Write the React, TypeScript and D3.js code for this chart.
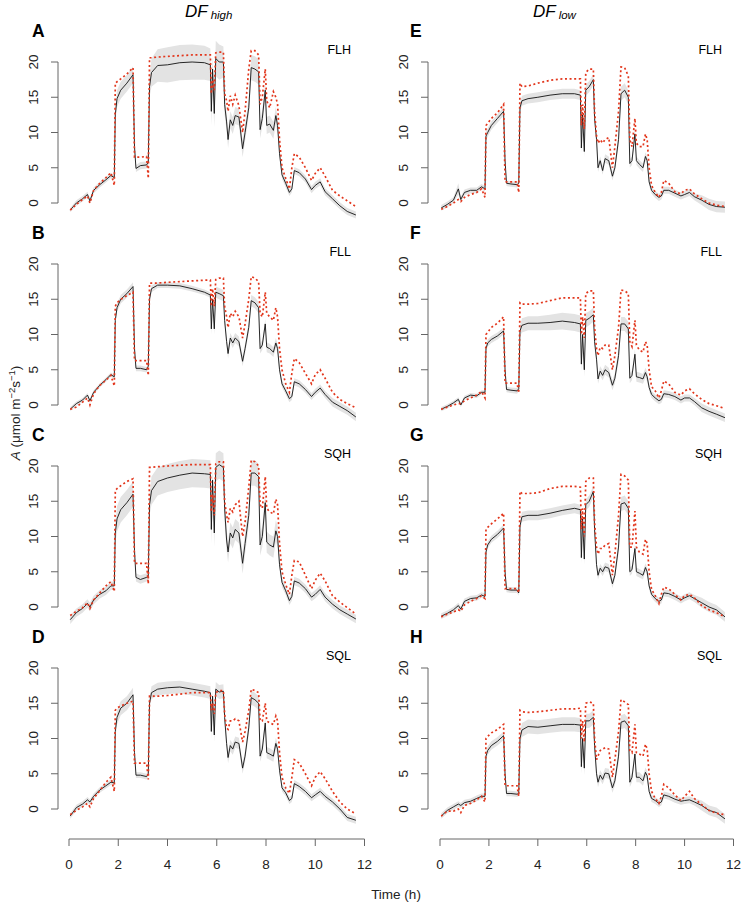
import React from 'react';
import * as d3 from 'd3';

// shared time grid (h)
const TIME = [
  0.05, 0.3, 0.55, 0.75, 0.85, 1.0, 1.25, 1.5, 1.7, 1.84,
  1.88, 1.95, 2.1, 2.35, 2.6,
  2.66, 2.72, 2.9, 3.15, 3.22,
  3.27, 3.35, 3.6, 4.0, 4.5, 5.0, 5.5, 5.74,
  5.78, 5.83, 5.9, 5.96, 6.1, 6.27, 6.32,
  6.4, 6.46, 6.55, 6.65, 6.75, 6.9, 7.05, 7.15,
  7.3, 7.4, 7.55, 7.7,
  7.76, 7.85, 7.97, 8.03, 8.15, 8.3, 8.4, 8.47,
  8.55, 8.65, 8.8, 8.95, 9.05, 9.15, 9.35, 9.6, 9.85, 10.0, 10.2, 10.4, 10.7, 11.0, 11.3, 11.65,
];
const X_TICKS = [0, 2, 4, 6, 8, 10, 12];
const Y_TICKS = [0, 5, 10, 15, 20];

// Panel A (DF high, FLH)
const blackA = [
  -1.0, 0.0, 0.6, 1.2, 0.3, 1.8, 2.6, 3.3, 3.9, 3.6,
  12.5, 14.8, 16.0, 17.0, 18.2,
  8.0, 4.9, 5.3, 5.4, 5.8,
  16.5, 18.5, 19.5, 19.6, 19.9, 20.0, 19.9, 19.6,
  13.0, 19.0, 12.7, 20.5, 20.0, 20.0, 14.0,
  11.5, 9.0, 11.8, 11.0, 12.4, 12.2, 7.7, 10.0,
  13.5, 19.2, 19.0, 18.6,
  10.4, 12.0, 16.0, 11.0, 11.2, 10.3, 12.4, 11.0,
  7.0, 4.0, 2.8, 1.5, 2.0, 4.6, 4.3, 3.4, 1.9, 2.5, 3.0, 1.6, 0.6, -0.4, -1.2, -1.7,
];
const redA = [
  -1.0, -0.2, 0.5, 1.0, 0.0, 1.8, 2.8, 3.6, 4.3, 2.5,
  17.0, 17.2, 17.6, 18.3, 19.2,
  6.5, 6.5, 6.5, 6.6, 3.5,
  20.6, 20.6, 20.7, 20.8, 20.9, 21.0, 21.0, 21.0,
  15.5, 17.5, 16.0, 21.3, 21.4, 21.4, 15.5,
  14.5, 13.0, 15.2, 14.0, 15.3, 13.8, 10.0, 13.0,
  19.0, 21.6, 21.6, 21.0,
  14.0, 15.0, 19.0, 14.5, 13.5, 15.8, 15.0, 14.0,
  9.0, 5.0, 3.5, 2.0, 5.0, 7.0, 6.5, 5.0, 3.2, 4.2, 5.0, 3.8, 1.8, 1.0, 0.3, -0.5,
];
const bandA = [
  0.3, 0.4, 0.4, 0.4, 0.4, 0.4, 0.4, 0.4, 0.4, 0.4,
  1.0, 1.2, 1.2, 1.2, 1.2,
  0.5, 0.5, 0.5, 0.5, 0.5,
  1.5, 2.0, 2.3, 2.5, 2.5, 2.5, 2.4, 2.3,
  2.0, 2.0, 2.0, 2.5, 2.5, 2.2, 1.5,
  1.2, 1.2, 1.2, 1.2, 1.2, 1.2, 1.2, 1.2,
  1.2, 1.8, 1.8, 1.8,
  1.2, 1.2, 1.2, 1.2, 1.2, 1.2, 1.2, 1.2,
  0.8, 0.6, 0.6, 0.5, 0.5, 0.5, 0.5, 0.5, 0.5, 0.5, 0.5, 0.5, 0.5, 0.5, 0.5, 0.5,
];

// Panel B (DF high, FLL)
const blackB = [
  -0.6, 0.2, 0.7, 1.4, 0.6, 1.8, 2.8, 3.6, 4.3, 4.0,
  12.0, 13.8, 15.0, 15.8, 16.8,
  8.0, 5.2, 5.2, 5.0, 5.5,
  15.0, 16.5, 17.0, 17.0, 16.9, 16.5, 16.0, 15.6,
  10.8, 15.0, 10.8, 16.0, 15.8, 15.5, 12.0,
  9.0, 7.3, 9.5, 8.8, 9.5, 9.0, 6.2, 8.0,
  11.0, 14.8, 14.5, 13.8,
  8.0, 8.5, 11.5, 8.2, 8.0, 7.5, 8.8, 8.0,
  5.0, 3.0, 2.0, 0.9, 1.2, 3.3, 3.0, 2.2, 1.2, 1.8, 2.4, 1.5, 0.4, -0.2, -0.8, -1.7,
];
const redB = [
  -0.6, -0.3, 0.4, 1.0, 0.0, 1.6, 2.8, 3.5, 4.2, 2.7,
  14.0, 14.5, 15.0, 15.5, 16.0,
  6.3, 6.3, 6.3, 6.3, 4.2,
  17.3, 17.3, 17.3, 17.4, 17.5, 17.6, 17.7, 17.7,
  14.0, 16.5, 14.0, 17.8, 18.0, 18.0, 14.0,
  12.5, 11.0, 13.0, 12.5, 13.3, 12.5, 9.5, 11.5,
  15.0, 18.2, 18.0, 17.5,
  13.0, 12.5, 16.0, 13.0, 12.5, 12.0, 13.8, 12.5,
  8.0, 5.0, 3.0, 1.8, 4.5, 6.6, 6.0, 4.5, 3.0, 4.3, 5.0, 3.8, 1.8, 0.8, 0.2, -0.4,
];
const bandB = [
  0.3, 0.3, 0.3, 0.3, 0.3, 0.3, 0.3, 0.3, 0.3, 0.3,
  0.6, 0.6, 0.6, 0.6, 0.6,
  0.4, 0.4, 0.4, 0.4, 0.4,
  0.5, 0.5, 0.4, 0.4, 0.4, 0.4, 0.4, 0.4,
  0.8, 0.8, 0.8, 0.8, 0.8, 0.8, 0.8,
  0.7, 0.7, 0.7, 0.7, 0.7, 0.7, 0.7, 0.7,
  0.8, 0.8, 0.8, 0.8,
  0.7, 0.7, 0.7, 0.7, 0.7, 0.7, 0.7, 0.7,
  0.5, 0.5, 0.5, 0.5, 0.5, 0.5, 0.5, 0.5, 0.5, 0.5, 0.5, 0.5, 0.6, 0.6, 0.6, 0.6,
];

// Panel C (DF high, SQH)
const blackC = [
  -1.8, -0.8, -0.2, 0.5, 0.0, 1.0, 1.8, 2.3, 3.0, 3.0,
  10.5, 12.5, 13.8, 14.8, 16.0,
  8.0, 4.2, 3.9, 4.2, 4.3,
  14.5, 16.5, 17.8, 18.3, 18.7, 19.0, 18.9, 18.8,
  11.0, 18.0, 10.5, 19.8, 20.2, 19.8, 14.0,
  9.5, 7.8, 10.5, 9.8, 11.0, 10.5, 6.2, 9.0,
  13.0, 19.0, 19.0, 18.5,
  8.8, 10.0, 14.8, 9.2, 8.8, 8.5, 10.8, 10.0,
  6.0, 3.5, 2.3, 0.9, 1.5, 3.7, 3.4, 2.6, 1.4, 1.8, 2.5, 1.4, 0.4, -0.4, -1.0, -1.7,
];
const redC = [
  -1.2, -0.6, -0.1, 0.6, -0.2, 1.0, 2.0, 3.0, 3.6, 2.2,
  16.5, 16.8, 17.2, 17.8, 18.2,
  6.2, 6.2, 6.2, 6.2, 3.3,
  19.8, 19.8, 19.9, 20.0, 20.1, 20.2, 20.2, 20.2,
  13.5, 16.0, 13.0, 20.3, 20.6, 20.6, 15.0,
  13.0, 12.0, 14.0, 13.5, 14.5, 15.0, 10.0, 12.0,
  17.0, 20.8, 20.6, 20.0,
  14.5, 14.0, 18.5, 14.0, 13.5, 13.2, 15.3, 14.5,
  9.0, 5.0, 3.2, 1.8, 4.5, 6.6, 6.4, 4.5, 2.6, 3.8, 4.8, 3.7, 1.6, 0.7, -0.1, -1.0,
];
const bandC = [
  0.6, 0.6, 0.6, 0.6, 0.6, 0.6, 0.6, 0.6, 0.6, 0.6,
  1.5, 1.8, 1.8, 1.8, 1.8,
  0.6, 0.6, 0.6, 0.6, 0.6,
  1.5, 2.0, 2.0, 2.0, 2.0, 2.0, 2.0, 2.0,
  2.0, 2.0, 2.0, 2.0, 2.0, 2.0, 2.0,
  1.5, 1.5, 1.5, 1.5, 1.5, 1.5, 1.5, 1.5,
  1.5, 1.8, 1.8, 1.8,
  1.5, 1.5, 1.5, 1.5, 1.5, 1.5, 1.5, 1.5,
  0.8, 0.7, 0.6, 0.6, 0.6, 0.6, 0.6, 0.6, 0.6, 0.6, 0.6, 0.6, 0.6, 0.6, 0.6, 0.6,
];

// Panel D (DF high, SQL)
const blackD = [
  -1.0, 0.2, 0.7, 1.3, 1.0, 1.8, 2.7, 3.3, 3.8, 3.7,
  11.0, 13.0, 14.3, 15.0, 16.2,
  8.0, 4.8, 4.8, 4.6, 5.0,
  15.0, 16.5, 17.0, 17.2, 17.3, 17.0, 16.7, 16.5,
  11.0, 16.0, 10.5, 17.0, 16.6, 16.7, 13.0,
  9.3, 7.3, 9.0, 8.5, 9.5, 9.3, 5.8, 7.5,
  11.5, 15.8, 15.5, 15.0,
  7.5, 8.5, 12.2, 8.0, 7.8, 7.5, 9.3, 8.5,
  5.5, 3.0, 2.3, 1.2, 1.5, 3.6, 3.2, 2.5, 1.6, 2.0, 2.5, 1.8, 1.0, 0.0, -1.2, -1.6,
];
const redD = [
  -0.8, -0.2, 0.3, 0.8, 0.3, 1.5, 2.6, 3.8, 4.5, 2.5,
  14.0, 14.3, 14.6, 15.0, 15.3,
  6.5, 6.5, 6.5, 6.5, 4.2,
  16.0, 16.0, 16.0, 16.1, 16.3, 16.5, 16.5, 16.5,
  14.0, 15.0, 13.5, 16.5, 16.8, 16.8, 13.5,
  11.5, 11.3, 12.5, 12.5, 12.8, 12.5, 9.5, 11.0,
  14.0, 17.0, 16.8, 16.5,
  12.5, 12.5, 15.0, 12.5, 12.2, 12.0, 13.2, 12.5,
  8.0, 4.5, 3.0, 2.2, 4.5, 7.0, 6.5, 5.0, 3.3, 4.5, 5.3, 4.3, 2.5, 1.0, 0.0, -0.7,
];
const bandD = [
  0.4, 0.4, 0.4, 0.4, 0.4, 0.4, 0.4, 0.4, 0.4, 0.4,
  1.0, 1.0, 1.0, 1.0, 1.0,
  0.4, 0.4, 0.4, 0.4, 0.4,
  0.8, 0.9, 0.9, 0.9, 0.9, 0.9, 0.9, 0.9,
  1.0, 1.0, 1.0, 1.0, 1.0, 1.0, 1.0,
  0.8, 0.8, 0.8, 0.8, 0.8, 0.8, 0.8, 0.8,
  1.0, 1.0, 1.0, 1.0,
  0.8, 0.8, 0.8, 0.8, 0.8, 0.8, 0.8, 0.8,
  0.5, 0.5, 0.5, 0.5, 0.5, 0.5, 0.5, 0.5, 0.5, 0.5, 0.5, 0.5, 0.5, 0.5, 0.5, 0.5,
];

// Panel E (DF low, FLH)
const blackE = [
  -0.7, -0.2, 0.4, 2.0, 0.5, 1.5, 1.8, 1.8, 2.3, 2.0,
  9.5, 10.0, 11.0, 12.0, 13.0,
  6.0, 2.8, 2.7, 2.6, 2.8,
  13.5, 14.5, 14.8, 15.0, 15.3, 15.5, 15.5, 15.3,
  7.8, 12.5, 7.3, 16.0, 16.5, 17.5, 12.0,
  9.0, 5.0, 6.0, 4.6, 6.3, 6.0, 3.8, 5.0,
  9.0, 15.5, 16.0, 15.0,
  5.6, 6.0, 9.8, 6.0, 5.5, 5.0, 6.6, 6.0,
  3.0, 1.8, 1.2, 0.8, 1.0, 1.8, 1.8, 1.4, 1.0, 1.2, 1.5, 0.9, 0.4, -0.2, -0.5, -0.6,
];
const redE = [
  -0.9, -0.5, 0.0, 0.5, 0.2, 0.8, 1.2, 1.5, 2.0, 0.8,
  11.0, 11.3, 12.0, 12.8, 14.0,
  3.0, 3.0, 3.0, 3.0, 1.5,
  17.0, 16.5, 16.6, 17.0, 17.4, 17.6, 17.6, 17.6,
  11.0, 14.0, 10.5, 18.5, 19.0, 19.0, 13.0,
  9.5, 8.5, 9.0, 8.5, 9.0, 9.3, 5.0, 8.0,
  13.0, 19.3, 19.2, 18.0,
  9.0, 8.0, 12.0, 8.5, 8.0, 8.0, 9.8, 9.0,
  5.0, 2.5, 1.5, 0.8, 1.5, 3.2, 2.8, 1.6, 1.3, 1.8, 2.0, 1.3, 0.6, 0.0, -0.3, -0.5,
];
const bandE = [
  0.4, 0.4, 0.4, 0.8, 0.4, 0.4, 0.4, 0.4, 0.4, 0.4,
  0.6, 0.6, 0.6, 0.6, 0.6,
  0.4, 0.4, 0.4, 0.4, 0.4,
  0.7, 0.7, 0.7, 0.7, 0.7, 0.7, 0.7, 0.7,
  0.8, 0.8, 0.8, 0.8, 0.8, 0.8, 0.8,
  0.6, 0.6, 0.6, 0.6, 0.6, 0.6, 0.6, 0.6,
  1.0, 1.0, 1.0, 1.0,
  0.6, 0.6, 0.6, 0.6, 0.6, 0.6, 0.6, 0.6,
  0.5, 0.5, 0.5, 0.5, 0.5, 0.5, 0.5, 0.5, 0.5, 0.5, 0.5, 0.5, 0.7, 0.8, 0.8, 0.8,
];

// Panel F (DF low, FLL)
const blackF = [
  -0.6, -0.2, 0.3, 0.8, 0.0, 1.0, 1.4, 1.3, 1.8, 1.8,
  8.0, 8.8, 9.3, 9.8, 10.5,
  5.0, 2.2, 2.1, 2.0, 2.3,
  10.5, 11.3, 11.6, 11.6, 11.7, 11.9, 11.7, 11.5,
  5.8, 10.0, 5.0, 12.0, 12.3, 12.8, 9.0,
  6.5, 3.7, 4.8, 4.2, 5.0, 4.6, 2.8, 3.8,
  7.0, 11.5, 11.5, 10.8,
  3.8, 4.2, 7.2, 4.0, 3.9, 3.7, 4.6, 4.0,
  2.5, 1.5, 1.0, 0.6, 0.8, 1.6, 1.5, 1.2, 0.7, 1.0, 1.0, 0.5, -0.4, -0.9, -1.3, -1.8,
];
const redF = [
  -0.6, -0.3, 0.0, 0.2, 0.2, 0.6, 1.0, 1.4, 1.9, 1.0,
  10.0, 10.3, 11.0, 11.6, 12.5,
  3.1, 3.1, 3.1, 3.1, 1.7,
  14.5, 14.3, 14.3, 14.4, 14.8, 15.2, 15.2, 15.2,
  10.0, 12.5, 9.5, 15.8, 16.2, 16.2, 11.0,
  8.0, 7.0, 8.2, 8.0, 8.5, 8.5, 5.0, 7.0,
  11.0, 16.3, 16.2, 15.8,
  9.0, 8.3, 12.0, 8.5, 7.8, 7.5, 9.0, 8.5,
  5.0, 2.6, 2.0, 1.0, 2.0, 3.4, 3.0, 1.8, 1.4, 2.0, 2.3, 1.6, 0.8, 0.2, -0.1, -0.5,
];
const bandF = [
  0.3, 0.3, 0.3, 0.3, 0.3, 0.3, 0.3, 0.3, 0.3, 0.3,
  0.5, 0.5, 0.5, 0.5, 0.5,
  0.4, 0.4, 0.4, 0.4, 0.4,
  0.8, 1.0, 1.0, 1.0, 1.1, 1.2, 1.2, 1.2,
  1.0, 1.0, 1.0, 1.0, 1.0, 1.0, 1.0,
  0.7, 0.7, 0.7, 0.7, 0.7, 0.7, 0.7, 0.7,
  1.0, 1.0, 1.0, 1.0,
  0.7, 0.7, 0.7, 0.7, 0.7, 0.7, 0.7, 0.7,
  0.5, 0.5, 0.5, 0.5, 0.5, 0.5, 0.5, 0.5, 0.5, 0.5, 0.5, 0.5, 0.6, 0.6, 0.6, 0.6,
];

// Panel G (DF low, SQH)
const blackG = [
  -1.3, -0.9, -0.4, 0.2, -0.3, 0.8, 1.2, 1.3, 1.7, 1.5,
  7.8, 8.8, 9.6, 10.3, 11.2,
  5.0, 2.5, 2.4, 2.4, 2.0,
  11.5, 12.8, 13.0, 13.0, 13.3, 13.7, 14.0, 13.8,
  7.0, 12.5, 6.8, 14.5, 15.0, 16.4, 11.0,
  6.0, 4.5, 5.5, 5.0, 5.7, 5.5, 3.3, 4.5,
  8.5, 14.6, 14.8, 14.0,
  5.0, 5.3, 8.3, 5.0, 4.8, 4.5, 5.6, 5.0,
  3.0, 1.8, 1.2, 0.8, 1.0, 2.0, 1.9, 1.5, 1.0, 1.3, 1.6, 1.2, 0.6, 0.0, -0.4, -1.4,
];
const redG = [
  -1.4, -1.0, -0.7, -0.4, -0.6, 0.3, 0.8, 1.2, 1.6, 1.2,
  11.0, 11.3, 11.8, 12.5, 13.3,
  2.6, 2.6, 2.6, 2.6, 2.0,
  16.4, 16.1, 16.1, 16.2, 16.8, 17.1, 17.1, 17.0,
  11.0, 14.0, 10.0, 17.8, 18.3, 18.3, 12.0,
  8.5, 7.5, 8.3, 8.3, 8.8, 9.0, 4.5, 7.5,
  13.0, 18.8, 18.6, 18.0,
  8.5, 8.5, 13.6, 8.5, 7.8, 7.5, 9.6, 9.0,
  5.0, 2.5, 1.6, 0.5, 1.8, 2.8, 2.6, 1.8, 1.0, 1.6, 1.8, 1.3, 0.2, -0.4, -0.8, -1.4,
];
const bandG = [
  0.4, 0.4, 0.4, 0.4, 0.4, 0.4, 0.4, 0.4, 0.4, 0.4,
  0.5, 0.5, 0.5, 0.5, 0.5,
  0.4, 0.4, 0.4, 0.4, 0.4,
  0.7, 0.7, 0.7, 0.7, 0.7, 0.7, 0.7, 0.7,
  0.8, 0.8, 0.8, 0.8, 0.8, 0.8, 0.8,
  0.6, 0.6, 0.6, 0.6, 0.6, 0.6, 0.6, 0.6,
  1.0, 1.0, 1.0, 1.0,
  0.6, 0.6, 0.6, 0.6, 0.6, 0.6, 0.6, 0.6,
  0.5, 0.5, 0.5, 0.5, 0.5, 0.5, 0.5, 0.5, 0.5, 0.5, 0.5, 0.5, 0.7, 0.7, 0.7, 0.7,
];

// Panel H (DF low, SQL)
const blackH = [
  -1.0, -0.2, 0.3, 0.7, 0.5, 0.9, 1.1, 1.5, 1.8, 1.8,
  7.5, 8.3, 9.0, 9.6, 10.4,
  5.0, 2.2, 2.2, 2.1, 2.2,
  10.0, 11.2, 11.7, 11.6, 11.8, 12.0, 12.0, 11.9,
  6.0, 10.0, 5.8, 12.5, 12.5, 13.0, 9.0,
  5.0, 3.8, 4.8, 4.2, 5.1, 5.0, 3.0, 4.0,
  7.5, 12.3, 12.5, 11.8,
  3.8, 4.5, 7.8, 4.5, 4.5, 4.0, 5.2, 4.7,
  2.5, 1.5, 1.2, 0.8, 1.0, 2.0, 1.8, 1.4, 1.1, 1.2, 1.3, 1.0, 0.5, -0.2, -0.5, -1.4,
];
const redH = [
  -1.0, -0.3, -0.3, 0.0, -0.5, 0.5, 0.8, 1.3, 1.8, 1.0,
  10.0, 10.3, 10.8, 11.3, 12.0,
  3.3, 3.3, 3.3, 3.3, 1.8,
  14.0, 13.8, 13.7, 13.8, 14.0, 14.2, 14.2, 14.3,
  10.0, 12.5, 9.5, 15.0, 15.2, 15.0, 10.0,
  7.0, 7.5, 8.3, 8.5, 8.7, 8.5, 4.5, 7.0,
  11.0, 15.5, 15.2, 14.8,
  8.3, 8.0, 12.0, 8.0, 7.8, 7.5, 9.2, 8.5,
  5.0, 2.5, 1.5, 0.8, 1.8, 3.5, 3.0, 2.0, 1.2, 1.8, 2.5, 1.5, 0.6, -0.2, -0.6, -0.8,
];
const bandH = [
  0.4, 0.4, 0.4, 0.4, 0.4, 0.4, 0.4, 0.4, 0.4, 0.4,
  0.6, 0.6, 0.6, 0.6, 0.6,
  0.4, 0.4, 0.4, 0.4, 0.4,
  0.8, 1.0, 1.0, 1.0, 1.0, 1.0, 1.0, 1.0,
  1.0, 1.0, 1.0, 1.0, 1.0, 1.0, 1.0,
  0.7, 0.7, 0.7, 0.7, 0.7, 0.7, 0.7, 0.7,
  1.0, 1.0, 1.0, 1.0,
  0.7, 0.7, 0.7, 0.7, 0.7, 0.7, 0.7, 0.7,
  0.5, 0.5, 0.5, 0.5, 0.5, 0.5, 0.5, 0.5, 0.5, 0.5, 0.5, 0.5, 0.7, 0.7, 0.7, 0.7,
];

const LETTERS = ['A', 'B', 'C', 'D', 'E', 'F', 'G', 'H'];
const TREATMENTS = ['FLH', 'FLL', 'SQH', 'SQL'];
const COLUMN_TITLES = [
  { main: 'DF', sub: 'high' },
  { main: 'DF', sub: 'low' },
];

const PANELS = [
  { col: 0, row: 0, black: blackA, red: redA, band: bandA },
  { col: 0, row: 1, black: blackB, red: redB, band: bandB },
  { col: 0, row: 2, black: blackC, red: redC, band: bandC },
  { col: 0, row: 3, black: blackD, red: redD, band: bandD },
  { col: 1, row: 0, black: blackE, red: redE, band: bandE },
  { col: 1, row: 1, black: blackF, red: redF, band: bandF },
  { col: 1, row: 2, black: blackG, red: redG, band: bandG },
  { col: 1, row: 3, black: blackH, red: redH, band: bandH },
];

const FONT = 'Liberation Sans, Arial, Helvetica, sans-serif';
const AXIS_COLOR = '#666';

export default function App() {
  const W = 742;
  const H = 903;
  const colRange: [number, number][] = [
    [69, 364.5],
    [440, 733.5],
  ];
  const axisXPos = [58, 428];
  const rowStep = 202;
  const y0Base = 203;
  const y20Base = 62;
  const xAxisY = 839;

  const titleX = [185, 533];

  return (
    <svg
      width={W}
      height={H}
      style={{ position: 'absolute', left: 0, top: 0, background: '#fff' }}
      fontFamily={FONT}
    >
      {COLUMN_TITLES.map((t, c) => (
        <text key={'t' + c} x={titleX[c]} y={17} fontSize={17} fontStyle="italic" fill="#000">
          {t.main}
          <tspan fontSize={11.5} dx={3} dy={2}>
            {t.sub}
          </tspan>
        </text>
      ))}

      {PANELS.map((p, i) => {
        const x = d3.scaleLinear().domain([0, 12]).range(colRange[p.col]);
        const y = d3
          .scaleLinear()
          .domain([0, 20])
          .range([y0Base + rowStep * p.row, y20Base + rowStep * p.row]);
        const idx = TIME.map((_, k) => k);
        const area = d3
          .area<number>()
          .x((k) => x(TIME[k]))
          .y0((k) => y(p.black[k] - p.band[k]))
          .y1((k) => y(p.black[k] + p.band[k]));
        const lineB = d3
          .line<number>()
          .x((k) => x(TIME[k]))
          .y((k) => y(p.black[k]));
        const lineR = d3
          .line<number>()
          .x((k) => x(TIME[k]))
          .y((k) => y(p.red[k]));
        const ax = axisXPos[p.col];
        const labelX = p.col === 0 ? 38 : 408;
        const letterX = p.col === 0 ? 32 : 410;
        const treatX = p.col === 0 ? 351 : 722;
        const rowOff = rowStep * p.row;
        return (
          <g key={i}>
            <path d={area(idx) || ''} fill="#e3e3e3" stroke="none" />
            <path d={lineB(idx) || ''} fill="none" stroke="#111" strokeWidth={0.9} />
            <path
              d={lineR(idx) || ''}
              fill="none"
              stroke="#e2361c"
              strokeWidth={1.7}
              strokeDasharray="2,2.6"
            />
            <line x1={ax} x2={ax} y1={y(0)} y2={y(20)} stroke={AXIS_COLOR} strokeWidth={1} />
            {Y_TICKS.map((v) => (
              <g key={v}>
                <line x1={ax - 7} x2={ax} y1={y(v)} y2={y(v)} stroke={AXIS_COLOR} strokeWidth={1} />
                <text
                  transform={`translate(${labelX},${y(v)}) rotate(-90)`}
                  textAnchor="middle"
                  fontSize={13.5}
                  fill="#222"
                >
                  {v}
                </text>
              </g>
            ))}
            {p.row === 3 && (
              <g>
                <line x1={x(0)} x2={x(12)} y1={xAxisY} y2={xAxisY} stroke={AXIS_COLOR} strokeWidth={1} />
                {X_TICKS.map((t) => (
                  <g key={t}>
                    <line x1={x(t)} x2={x(t)} y1={xAxisY} y2={xAxisY + 7} stroke={AXIS_COLOR} strokeWidth={1} />
                    <text x={x(t)} y={869} textAnchor="middle" fontSize={13.5} fill="#222">
                      {t}
                    </text>
                  </g>
                ))}
              </g>
            )}
            <text x={letterX} y={37 + rowOff} fontSize={17.5} fontWeight="bold" fill="#000">
              {LETTERS[i]}
            </text>
            <text x={treatX} y={54 + rowOff} textAnchor="end" fontSize={12.5} fill="#000">
              {TREATMENTS[p.row]}
            </text>
          </g>
        );
      })}

      <text transform="translate(20,413) rotate(-90)" textAnchor="middle" fontSize={13.5} fill="#222">
        <tspan fontStyle="italic">A</tspan>
        <tspan> (μmol m</tspan>
        <tspan fontSize={9.5} dy={-5}>−2</tspan>
        <tspan dy={5}>s</tspan>
        <tspan fontSize={9.5} dy={-5}>−1</tspan>
        <tspan dy={5}>)</tspan>
      </text>

      <text x={396} y={899} textAnchor="middle" fontSize={13.5} fill="#222">
        Time (h)
      </text>
    </svg>
  );
}
